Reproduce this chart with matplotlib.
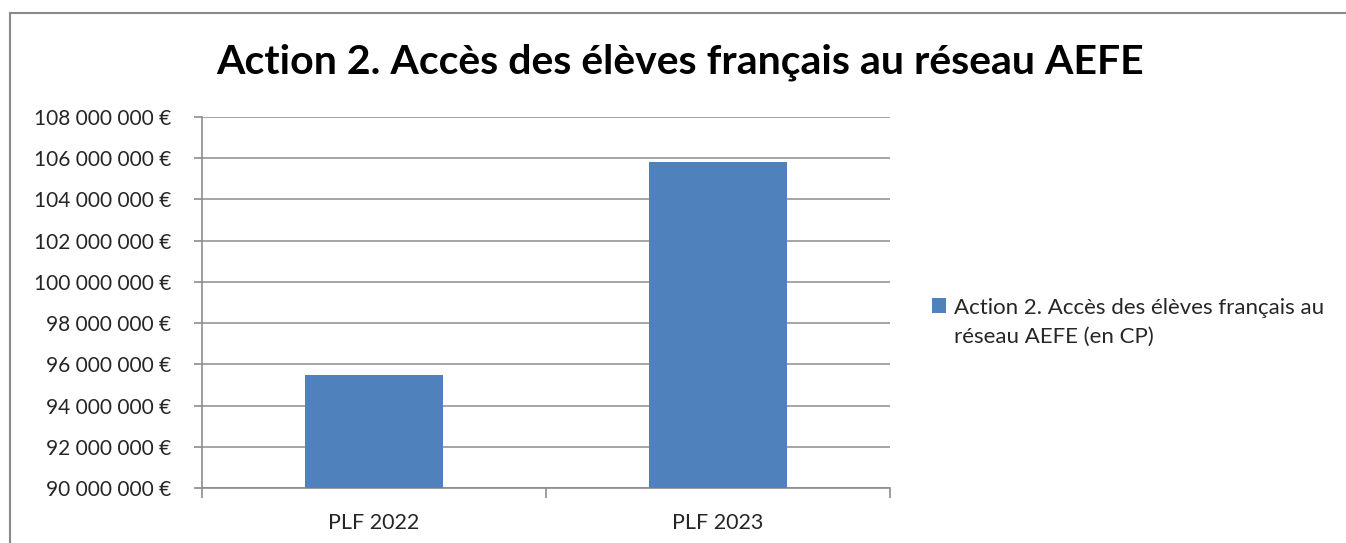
import matplotlib.pyplot as plt
from matplotlib.lines import Line2D
from matplotlib.patches import Rectangle
from matplotlib.legend_handler import HandlerPatch
from matplotlib.ticker import FuncFormatter, MultipleLocator

plt.rcParams['font.family'] = ['Lato', 'DejaVu Sans']

categories = ['PLF 2022', 'PLF 2023']
values = [95500000, 105800000]
series_name = 'Action 2. Accès des élèves français au\nréseau AEFE (en CP)'
title = 'Action 2. Accès des élèves français au réseau AEFE'

W, H = 1346, 543
fig = plt.figure(figsize=(W / 100, H / 100), dpi=100)
ax = fig.add_axes([202 / W, 1 - 488 / H, 688 / W, (488 - 117) / H])

x = list(range(len(categories)))
bars = ax.bar(x, values, width=0.4, color='#4f81bd', label=series_name, zorder=3)

ax.set_xlim(-0.5, len(categories) - 0.5)
ax.set_ylim(90000000, 108000000)
ax.yaxis.set_major_locator(MultipleLocator(2000000))


def euro(v, pos):
    s = f"{int(round(v)):,}".replace(',', ' ')
    return s + ' €'


ax.yaxis.set_major_formatter(FuncFormatter(euro))
ax.grid(axis='y', color='#969696', linewidth=1.2, zorder=0)

for side in ['top', 'right']:
    ax.spines[side].set_visible(False)
for side in ['left', 'bottom']:
    ax.spines[side].set_color('#8c8c8c')
    ax.spines[side].set_linewidth(1.2)

ax.set_xticks(x)
ax.set_xticklabels(categories, fontsize=15.5, color='#262626')
ax.tick_params(axis='x', length=0, pad=18)
ax.set_xticks([-0.5, 0.5, 1.5], minor=True)
ax.tick_params(axis='x', which='minor', length=7, color='#8c8c8c', width=1.2)
ax.tick_params(axis='y', length=6, color='#8c8c8c', width=1.2, labelsize=15,
               labelcolor='#262626', pad=16)

fig.text(680 / W, 1 - 62 / H, title, ha='center', va='center',
         fontsize=29.5, fontweight='bold', color='black')


# legend square sits next to the first line of the label
def top_square(legend, orig_handle, xdescent, ydescent, width, height, fontsize):
    return Rectangle((-xdescent, -ydescent + 12), width, height)


handle = bars.patches[0]
fig.legend(handles=[handle], labels=[series_name], loc='center left',
           bbox_to_anchor=(912 / W, 1 - 322 / H), frameon=False,
           fontsize=16, handlelength=0.65, handleheight=0.65,
           handletextpad=0.35, labelcolor='#262626', labelspacing=0,
           handler_map={handle: HandlerPatch(patch_func=top_square)})
for t in fig.legends[0].get_texts():
    t.set_linespacing(1.55)

# chart border (left and top only, the rest is cut off)
fig.add_artist(Line2D([10 / W, 10 / W], [0, 1 - 13 / H], transform=fig.transFigure,
                      color='#8a8a8a', linewidth=1.5))
fig.add_artist(Line2D([10 / W, 1], [1 - 13 / H, 1 - 13 / H], transform=fig.transFigure,
                      color='#8a8a8a', linewidth=1.5))

fig.savefig('out.png', dpi=100)
